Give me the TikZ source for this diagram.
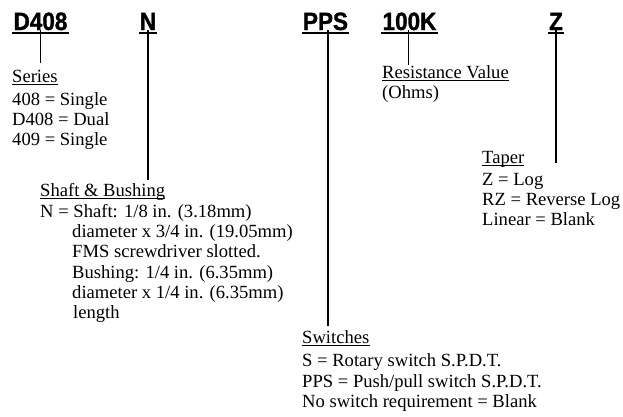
\documentclass[tikz,border=0pt]{standalone}
\usepackage{fontspec}
\setmainfont{Liberation Serif}
\newfontfamily\hdrfont{Liberation Sans}[FakeStretch=0.9,FakeBold=1.2]
\begin{document}
\begin{tikzpicture}[x=1pt,y=-1pt,
  hdr/.style={anchor=base, inner sep=0pt, font=\hdrfont\bfseries\fontsize{25}{25}\selectfont},
  txt/.style={anchor=base west, inner sep=0pt, font=\fontsize{18.6}{20}\selectfont},
  conn/.style={line width=1.6pt},
  ul/.style={line width=0.9pt},
  hul/.style={line width=2.4pt}]
\useasboundingbox (0,0) rectangle (623,416);
% headers
\node[hdr] (h1) at (40.5,30) {D408};
\node[hdr] (h2) at (148,30) {N};
\node[hdr] (h3) at (325.5,30) {PPS};
\node[hdr] (h4) at (409.5,30) {100K};
\node[hdr] (h5) at (556,30) {Z};
\foreach \h in {h1,h2,h3,h4,h5}
  \draw[hul] ([xshift=-1pt,yshift=-2.8pt]\h.base west) -- ([xshift=1pt,yshift=-2.8pt]\h.base east);
% series
\node[txt] (s0) at (12,82) {Series};
\node[txt] (s1) at (12,105) {408 = Single};
\node[txt] (s2) at (12,125) {D408 = Dual};
\node[txt] (s3) at (12,145) {409 = Single};
% shaft
\node[txt] (b0) at (40,196) {Shaft \& Bushing};
\node[txt] (b1) at (40,217) {N = Shaft: 1/8 in. (3.18mm)};
\node[txt] (b2) at (72,237) {diameter x 3/4 in. (19.05mm)};
\node[txt] (b3) at (72,257) {FMS screwdriver slotted.};
\node[txt] (b4) at (72,278) {Bushing: 1/4 in. (6.35mm)};
\node[txt] (b5) at (72,298) {diameter x 1/4 in. (6.35mm)};
\node[txt] (b6) at (73,318) {length};
% resistance
\node[txt] (r0) at (382,78) {Resistance Value};
\node[txt] (r1) at (382,98) {(Ohms)};
% taper
\node[txt] (t0) at (482,163) {Taper};
\node[txt] (t1) at (482,185) {Z = Log};
\node[txt] (t2) at (482,205) {RZ = Reverse Log};
\node[txt] (t3) at (482,225) {Linear = Blank};
% switches
\node[txt] (w0) at (302,343) {Switches};
\node[txt] (w1) at (302,366) {S = Rotary switch S.P.D.T.};
\node[txt] (w2) at (302,387) {PPS = Push/pull switch S.P.D.T.};
\node[txt] (w3) at (302,407) {No switch requirement = Blank};
% label underlines
\foreach \n in {s0,b0,r0,t0,w0}
  \draw[ul] ([yshift=-2.6pt]\n.base west) -- ([yshift=-2.6pt]\n.base east);
% connector ends
\coordinate (e1) at (40.5,63);
\coordinate (e2) at (148,180);
\coordinate (e3) at (328,326);
\coordinate (e4) at (408.5,65);
\coordinate (e5) at (556,163);
\draw[conn,line width=1.3pt] (h1.south -| e1) -- (e1);
\draw[conn] (h2.south -| e2) -- (e2);
\draw[conn] (h3.south -| e3) -- (e3);
\draw[conn,line width=1.3pt] (h4.south -| e4) -- (e4);
\draw[conn] (h5.south -| e5) -- (e5);
\end{tikzpicture}
\end{document}
